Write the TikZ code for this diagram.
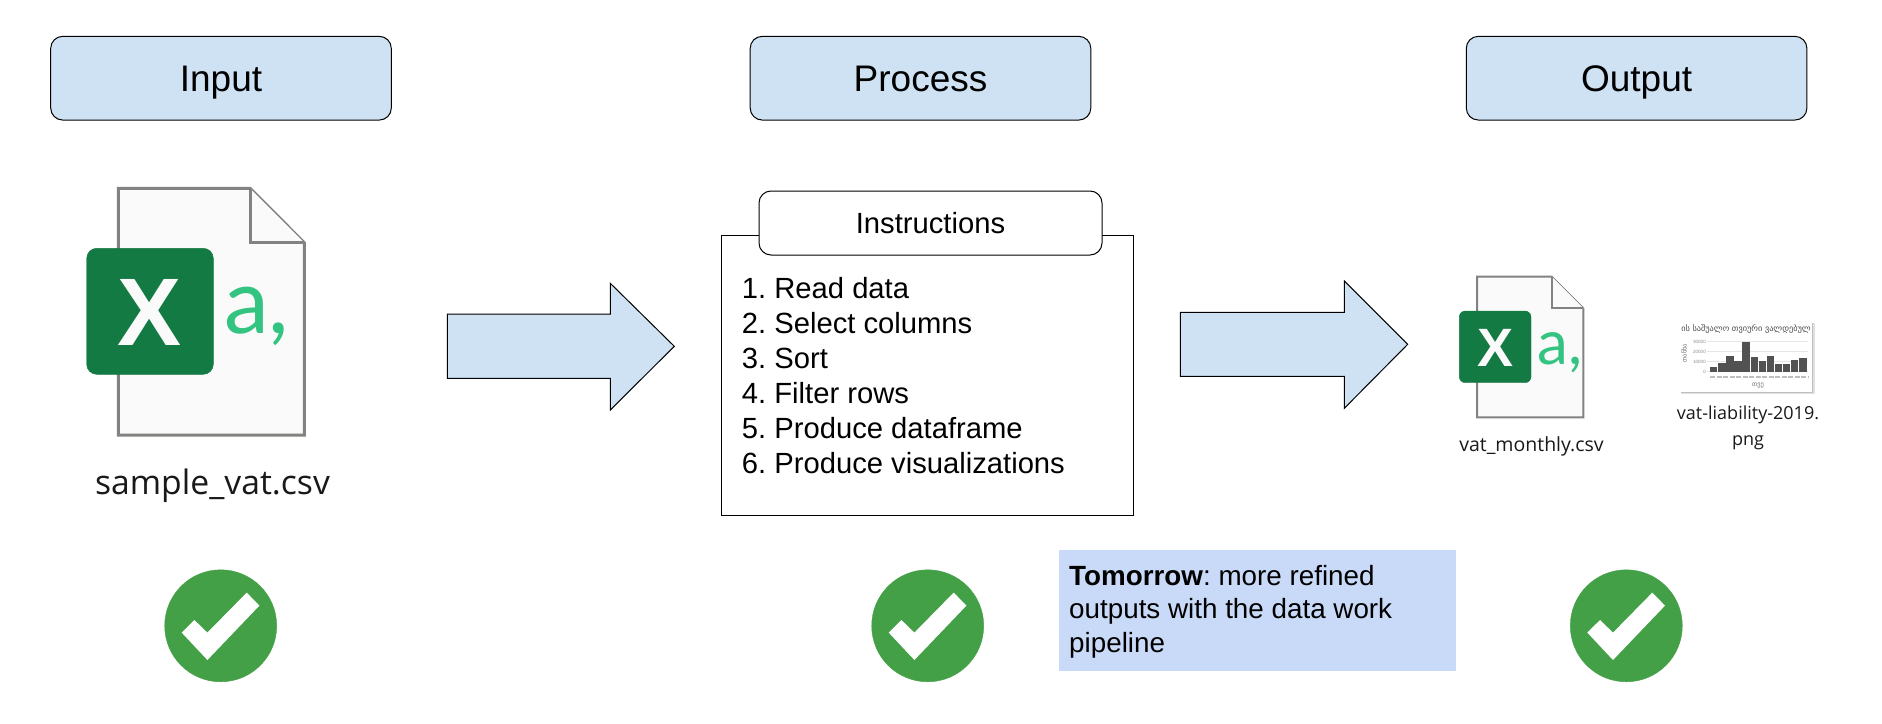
\documentclass[tikz,border=0pt]{standalone}
\usepackage{fontspec}
\setmainfont{Liberation Sans}
\newfontfamily\capfont{Open Sans}
\newfontfamily\georgfont{DejaVu Sans}
\newfontfamily\iconfont{Lato}
\usepackage{tikz}
\usetikzlibrary{positioning}
\frenchspacing

\definecolor{headblue}{HTML}{CFE2F3}
\definecolor{noteblue}{HTML}{C9DAF8}
\definecolor{checkgreen}{HTML}{43A047}
\definecolor{xlgreen}{HTML}{137A43}
\definecolor{xllight}{HTML}{33C481}
\definecolor{pagegray}{HTML}{828280}
\definecolor{pagefill}{HTML}{FAFAFA}

\tikzset{
    headbox/.style={draw=black, fill=headblue, line width=1pt, rounded corners=12pt,
        minimum width=340.6pt, minimum height=83.7pt, inner sep=0pt},
    headtext/.style={anchor=base, inner sep=0pt, font=\fontsize{37}{44}\selectfont},
    blockarrow/.style={draw=black, fill=headblue, line width=1pt, line join=miter},
    filepage/.style={draw=pagegray, fill=pagefill, line join=miter},
    capname/.style={anchor=base, inner sep=0pt, text=black!90},
    ticktext/.style={anchor=east, inner sep=0pt, text=black!45, font=\fontsize{4.6}{5}\selectfont},
}

\begin{document}
\begin{tikzpicture}[x=1pt,y=-1pt]
    \useasboundingbox (0,0) rectangle (1882,723);

    % Header boxes
    \node[headbox] (inputbox) at (221,78.2) {};
    \node[headbox] (processbox) at (920.5,78.2) {};
    \node[headbox] (outputbox) at (1636.6,78.2) {};
    \node[headtext] (inputtext) at (221,91) {Input};
    \node[headtext] (processtext) at (920.5,91) {Process};
    \node[headtext] (outputtext) at (1636.6,91) {Output};

    % Big file icon
    \filldraw[filepage, line width=3pt] (118.3,188.3) -- (250,188.3) -- (304.3,242.7) -- (304.3,435) -- (118.3,435) -- cycle;
    \draw[filepage, line width=3pt] (250,188.3) -- (250,242.7) -- (304.3,242.7);
    \filldraw[xlgreen, rounded corners=10pt] (86.7,248.3) rectangle (213.3,374.3);
    \node[anchor=base, inner sep=0pt, text=pagefill, font=\fontsize{96}{96}\selectfont\bfseries] (bigx) at (149.7,345.7) {X};
    \node[anchor=base west, inner sep=0pt, text=xllight, font=\iconfont\fontsize{90}{90}\selectfont] (biga) at (224,333.3) {a,};
    \node[capname, font=\capfont\fontsize{33.7}{40}\selectfont] (inputname) at (212.5,494) {sample\_vat.csv};

    % Arrows between the stages
    \filldraw[blockarrow] (447.3,314) -- (610.3,314) -- (610.3,283.3) -- (674.3,346.3) -- (610.3,410) -- (610.3,378.3) -- (447.3,378.3) -- cycle;
    \filldraw[blockarrow] (1180.3,312.3) -- (1344.3,312.3) -- (1344.3,281) -- (1407.7,344.3) -- (1344.3,408.3) -- (1344.3,376.3) -- (1180.3,376.3) -- cycle;

    % Instructions box and its tab
    \draw[line width=1pt] (721.5,235) rectangle (1133,515);
    \node[draw=black, fill=white, line width=1pt, rounded corners=12pt, minimum width=343pt, minimum height=64pt, inner sep=0pt] (instrtab) at (930.5,223) {};
    \node[anchor=base, inner sep=0pt, font=\fontsize{29.2}{35}\selectfont] (instrtitle) at (930.5,233.5) {Instructions};
    \node[anchor=base west, inner sep=0pt, align=left, font=\fontsize{29.2}{35}\selectfont] (instrlist) at (741.7,473.5) {1. Read data\\2. Select columns\\3. Sort\\4. Filter rows\\5. Produce dataframe\\6. Produce visualizations};

    % Small file icon
    \filldraw[filepage, line width=2pt] (1477,276.7) -- (1551.7,276.7) -- (1583.3,308.3) -- (1583.3,417.3) -- (1477,417.3) -- cycle;
    \draw[filepage, line width=2pt] (1551.7,276.7) -- (1551.7,308.3) -- (1583.3,308.3);
    \filldraw[xlgreen, rounded corners=6pt] (1459.3,311) rectangle (1531,382.7);
    \node[anchor=base, inner sep=0pt, text=pagefill, font=\fontsize{54}{54}\selectfont\bfseries] (smallx) at (1495.7,366.7) {X};
    \node[anchor=base west, inner sep=0pt, text=xllight, font=\iconfont\fontsize{62}{62}\selectfont] (smalla) at (1537,364) {a,};
    \node[capname, font=\capfont\fontsize{19.5}{26}\selectfont] (outputname) at (1531.5,451.7) {vat\_monthly.csv};

    % Chart thumbnail
    \fill[black!12] (1681,323) rectangle (1814.5,394);
    \fill[black!25] (1681,323) rectangle (1813,392.7);
    \fill[white] (1680,321.7) rectangle (1811.7,391.7);
    \draw[black!10, line width=.5pt] (1706.7,341.7) -- (1808,341.7);
    \draw[black!10, line width=.5pt] (1706.7,351.7) -- (1808,351.7);
    \draw[black!10, line width=.5pt] (1706.7,361.7) -- (1808,361.7);
    \draw[black!10, line width=.5pt] (1706.7,371.7) -- (1808,371.7);
    \begin{scope}
        \clip (1680,321.7) rectangle (1811.7,391.7);
        \node[anchor=base, inner sep=0pt, text=black!70, font=\georgfont\fontsize{8.3}{10}\selectfont] (charttitle) at (1746,331.5) {ის საშუალო თვიური ვალდებულ};
    \end{scope}
    \fill[black!68] (1710,366.7) rectangle (1717.4,371.7);
    \fill[black!68] (1718.1,362.7) rectangle (1725.5,371.7);
    \fill[black!68] (1726.2,356) rectangle (1733.6,371.7);
    \fill[black!68] (1734.3,361.2) rectangle (1741.7,371.7);
    \fill[black!68] (1742.4,341.7) rectangle (1749.8,371.7);
    \fill[black!68] (1750.5,357.2) rectangle (1757.9,371.7);
    \fill[black!68] (1758.6,361.2) rectangle (1766,371.7);
    \fill[black!68] (1766.7,355.7) rectangle (1774.1,371.7);
    \fill[black!68] (1774.8,364.2) rectangle (1782.2,371.7);
    \fill[black!68] (1782.9,364.4) rectangle (1790.3,371.7);
    \fill[black!68] (1791,359.7) rectangle (1798.4,371.7);
    \fill[black!68] (1799.1,357.7) rectangle (1806.5,371.7);
    \node[ticktext] (tickthirty) at (1706,341.7) {30000};
    \node[ticktext] (ticktwenty) at (1706,351.7) {20000};
    \node[ticktext] (tickten) at (1706,361.7) {10000};
    \node[ticktext] (tickzero) at (1706,371.7) {0};
    \draw[black!25, line width=1.2pt, dash pattern=on 5pt off 1.5pt] (1710,377) -- (1808,377);
    \node[inner sep=0pt, text=black!55, rotate=90, font=\georgfont\fontsize{6.5}{8}\selectfont] (chartylab) at (1684,353) {თანხა};
    \node[inner sep=0pt, text=black!55, font=\georgfont\fontsize{6.5}{8}\selectfont] (chartxlab) at (1758,385) {თვე};
    \node[capname, font=\capfont\fontsize{18}{26}\selectfont] (chartname) at (1748,419) {vat-liability-2019.};
    \node[capname, font=\capfont\fontsize{18}{26}\selectfont] (chartext) at (1748,445) {png};

    % Tomorrow note
    \fill[noteblue] (1059,549.5) rectangle (1456,670.7);
    \node[anchor=base west, inner sep=0pt, align=left, font=\fontsize{27.8}{33.8}\selectfont] (tomorrownote) at (1069,652.7) {\textbf{Tomorrow}: more refined\\outputs with the data work\\pipeline};

    % Check marks
    \filldraw[checkgreen] (220.7,625.8) circle (56);
    \fill[white, shift={(220.7,625.8)}] (-26.3,-5.8) -- (-13.3,6.8) -- (26,-33.2) -- (38.7,-20.2) -- (-13.3,34.2) -- (-39,6.8) -- cycle;
    \filldraw[checkgreen] (927.7,625.8) circle (56);
    \fill[white, shift={(927.7,625.8)}] (-26.3,-5.8) -- (-13.3,6.8) -- (26,-33.2) -- (38.7,-20.2) -- (-13.3,34.2) -- (-39,6.8) -- cycle;
    \filldraw[checkgreen] (1626.3,625.8) circle (56);
    \fill[white, shift={(1626.3,625.8)}] (-26.3,-5.8) -- (-13.3,6.8) -- (26,-33.2) -- (38.7,-20.2) -- (-13.3,34.2) -- (-39,6.8) -- cycle;

\end{tikzpicture}
\end{document}
